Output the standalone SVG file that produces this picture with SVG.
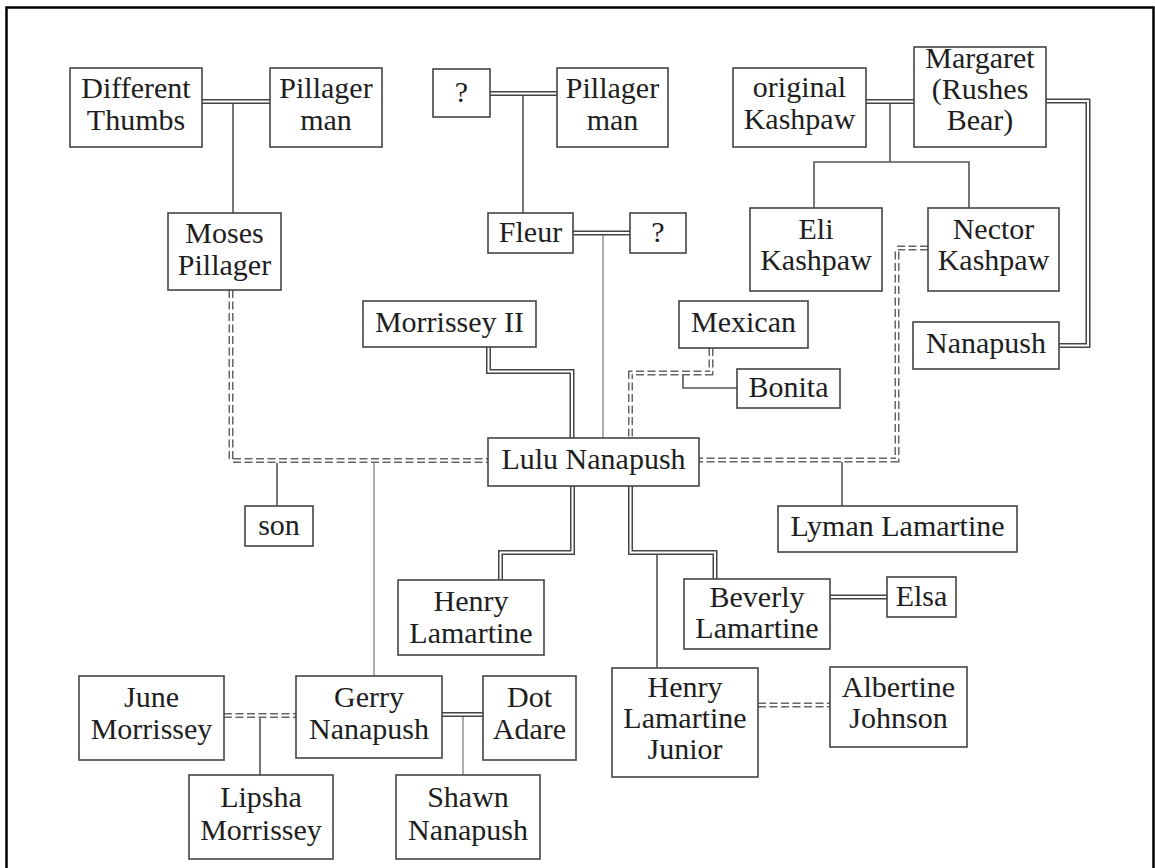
<svg xmlns="http://www.w3.org/2000/svg" width="1155" height="868" viewBox="0 0 1155 868">
<style>
.box{fill:#fff;stroke:#444;stroke-width:1.6}
text{font-family:"Liberation Serif","Times New Roman",serif;font-size:30px;fill:#1e1e1e;text-anchor:middle}
.dbl{fill:none;stroke:#444;stroke-width:5}
.dblw{fill:none;stroke:#fff;stroke-width:2}
.dsh{fill:none;stroke:#666;stroke-width:5;stroke-dasharray:8 3.5}
.sgl{fill:none;stroke:#555;stroke-width:1.6}
.lgt{fill:none;stroke:#999;stroke-width:1.6}
</style>
<rect x="6.5" y="7.5" width="1147" height="900" fill="#fff" stroke="#000" stroke-width="2.5"/>
<g id="connectors">
  <path class="sgl" d="M233 103V213"/>
  <path class="sgl" d="M523 95V213"/>
  <path class="lgt" d="M603 235V438"/>
  <path class="sgl" d="M890 103V162M814 208V162H969V208"/>
  <path class="sgl" d="M657 554V668"/>
  <path class="lgt" d="M463 716V775"/>
  <path class="sgl" d="M260 717V775"/>
  <path class="sgl" d="M277 463V506"/>
  <path class="lgt" d="M374 463V676"/>
  <path class="sgl" d="M683 373V388H737"/>
  <path class="sgl" d="M842 462V506"/>
  <g>
    <path class="dbl" d="M202 101.5H270"/>
    <path class="dbl" d="M490 93.5H557"/>
    <path class="dbl" d="M573 233H630"/>
    <path class="dbl" d="M866 101.5H914"/>
    <path class="dbl" d="M1046 101H1088V345.5H1059"/>
    <path class="dbl" d="M488.5 347V371.5H572V438"/>
    <path class="dbl" d="M572.5 486V552.5H500.5V580"/>
    <path class="dbl" d="M630.5 486V552.5H715V579"/>
    <path class="dbl" d="M830 597H887"/>
    <path class="dbl" d="M442 714.5H483"/>
    <path class="dsh" d="M224 715.5H296"/>
    <path class="dsh" d="M758 705H830"/>
    <path class="dsh" d="M231 290V460.5H488"/>
    <path class="dsh" d="M711 348V373H630.5V438"/>
    <path class="dsh" d="M928 248H897V460H699"/>
  </g>
  <g>
    <path class="dblw" d="M202 101.5H270"/>
    <path class="dblw" d="M490 93.5H557"/>
    <path class="dblw" d="M573 233H630"/>
    <path class="dblw" d="M866 101.5H914"/>
    <path class="dblw" d="M1046 101H1088V345.5H1059"/>
    <path class="dblw" d="M488.5 347V371.5H572V438"/>
    <path class="dblw" d="M572.5 486V552.5H500.5V580"/>
    <path class="dblw" d="M630.5 486V552.5H715V579"/>
    <path class="dblw" d="M830 597H887"/>
    <path class="dblw" d="M442 714.5H483"/>
    <path class="dblw" d="M224 715.5H296"/>
    <path class="dblw" d="M758 705H830"/>
    <path class="dblw" d="M231 290V460.5H488"/>
    <path class="dblw" d="M711 348V373H630.5V438"/>
    <path class="dblw" d="M928 248H897V460H699"/>
  </g>
</g>
<g id="nodes">
  <g id="different-thumbs"><rect class="box" x="70" y="68" width="132" height="79"/><text x="136" y="98">Different</text><text x="136" y="130">Thumbs</text></g>
  <g id="pillager-man-1"><rect class="box" x="270" y="68" width="112" height="79"/><text x="326" y="98">Pillager</text><text x="326" y="130">man</text></g>
  <g id="unknown-1"><rect class="box" x="433" y="69" width="57" height="48"/><text x="461.5" y="102">?</text></g>
  <g id="pillager-man-2"><rect class="box" x="557" y="68" width="111" height="79"/><text x="612.5" y="98">Pillager</text><text x="612.5" y="130">man</text></g>
  <g id="original-kashpaw"><rect class="box" x="733" y="68" width="133" height="79"/><text x="799.5" y="97">original</text><text x="799.5" y="129">Kashpaw</text></g>
  <g id="margaret"><rect class="box" x="914" y="47" width="132" height="100"/><text x="980" y="68">Margaret</text><text x="980" y="99">(Rushes</text><text x="980" y="130">Bear)</text></g>
  <g id="moses-pillager"><rect class="box" x="168" y="213" width="113" height="77"/><text x="224.5" y="243">Moses</text><text x="224.5" y="275">Pillager</text></g>
  <g id="fleur"><rect class="box" x="488" y="213" width="85" height="40"/><text x="530.5" y="242">Fleur</text></g>
  <g id="unknown-2"><rect class="box" x="630" y="213" width="56" height="40"/><text x="658" y="242">?</text></g>
  <g id="eli-kashpaw"><rect class="box" x="750" y="208" width="132" height="83"/><text x="816" y="239">Eli</text><text x="816" y="270">Kashpaw</text></g>
  <g id="nector-kashpaw"><rect class="box" x="928" y="208" width="131" height="83"/><text x="993.5" y="239">Nector</text><text x="993.5" y="270">Kashpaw</text></g>
  <g id="morrissey-ii"><rect class="box" x="363" y="301" width="173" height="46"/><text x="449.5" y="332">Morrissey II</text></g>
  <g id="mexican"><rect class="box" x="679" y="301" width="129" height="47"/><text x="743.5" y="332">Mexican</text></g>
  <g id="bonita"><rect class="box" x="737" y="369" width="103" height="39"/><text x="788.5" y="397">Bonita</text></g>
  <g id="nanapush"><rect class="box" x="913" y="322" width="146" height="47"/><text x="986" y="353">Nanapush</text></g>
  <g id="lulu-nanapush"><rect class="box" x="488" y="438" width="211" height="48"/><text x="593.5" y="469">Lulu Nanapush</text></g>
  <g id="son"><rect class="box" x="245" y="506" width="68" height="40"/><text x="279" y="535">son</text></g>
  <g id="lyman-lamartine"><rect class="box" x="778" y="506" width="239" height="46"/><text x="897.5" y="536">Lyman Lamartine</text></g>
  <g id="henry-lamartine"><rect class="box" x="398" y="580" width="146" height="75"/><text x="471" y="611">Henry</text><text x="471" y="643">Lamartine</text></g>
  <g id="beverly-lamartine"><rect class="box" x="684" y="579" width="146" height="70"/><text x="757" y="607">Beverly</text><text x="757" y="638">Lamartine</text></g>
  <g id="elsa"><rect class="box" x="887" y="577" width="69" height="40"/><text x="921.5" y="606">Elsa</text></g>
  <g id="june-morrissey"><rect class="box" x="79" y="676" width="145" height="84"/><text x="151.5" y="707">June</text><text x="151.5" y="739">Morrissey</text></g>
  <g id="gerry-nanapush"><rect class="box" x="296" y="676" width="146" height="82"/><text x="369" y="707">Gerry</text><text x="369" y="739">Nanapush</text></g>
  <g id="dot-adare"><rect class="box" x="483" y="676" width="93" height="84"/><text x="529.5" y="707">Dot</text><text x="529.5" y="739">Adare</text></g>
  <g id="henry-lamartine-junior"><rect class="box" x="612" y="668" width="146" height="109"/><text x="685" y="697">Henry</text><text x="685" y="728">Lamartine</text><text x="685" y="759">Junior</text></g>
  <g id="albertine-johnson"><rect class="box" x="830" y="667" width="137" height="80"/><text x="898.5" y="697">Albertine</text><text x="898.5" y="728">Johnson</text></g>
  <g id="lipsha-morrissey"><rect class="box" x="189" y="775" width="144" height="84"/><text x="261" y="807">Lipsha</text><text x="261" y="840">Morrissey</text></g>
  <g id="shawn-nanapush"><rect class="box" x="396" y="775" width="144" height="84"/><text x="468" y="807">Shawn</text><text x="468" y="840">Nanapush</text></g>
</g>
</svg>
